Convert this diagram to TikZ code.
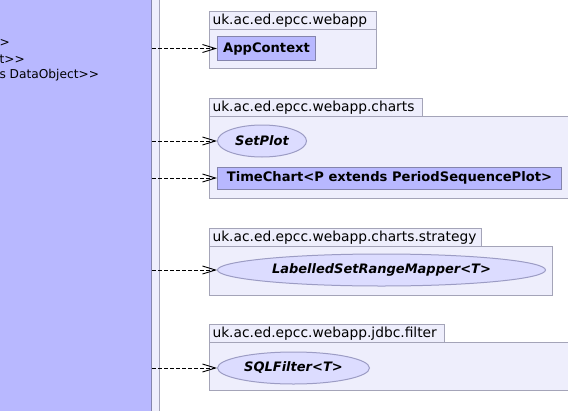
\documentclass[tikz,border=0pt]{standalone}
\usepackage{fontspec}
\setmainfont{DejaVu Sans}[Ligatures=TeXOff]
\usetikzlibrary{arrows.meta,shapes.geometric}
\definecolor{classfill}{HTML}{B8B8FF}
\definecolor{classline}{HTML}{8484AC}
\definecolor{ifacefill}{HTML}{DCDCFF}
\definecolor{ifaceline}{HTML}{9C9CC4}
\definecolor{pkgfill}{HTML}{EEEEFC}
\definecolor{pkgline}{HTML}{A4A4B8}

\begin{document}
\begin{tikzpicture}[x=1pt,y=-1pt,line width=1pt,
  every node/.style={font=\fontsize{13.8}{16}\selectfont},
  pkgbody/.style={draw=pkgline, fill=pkgfill, rectangle, anchor=north west, inner sep=0pt},
  pkgtab/.style={draw=pkgline, fill=pkgfill, rectangle, anchor=north west, minimum height=18pt,
    inner xsep=3pt, inner ysep=0pt, align=left, text height=10pt, text depth=3pt},
  classbox/.style={draw=classline, fill=classfill, rectangle, anchor=west, inner sep=0pt,
    font=\fontsize{13.1}{16}\selectfont\bfseries},
  ifacebox/.style={draw=ifaceline, fill=ifacefill, ellipse, anchor=west, inner sep=0pt,
    minimum height=32pt, font=\fontsize{13}{16}\selectfont\bfseries\itshape},
  dep/.style={dashed, dash pattern=on 4pt off 2pt, line width=0.9pt,
    -{Straight Barb[length=13pt,width=8pt]}},
  cut/.style={anchor=west, inner sep=0pt, font=\fontsize{12.2}{16}\selectfont}]
\clip (0,0) rectangle (568,410);

% the class on the left, cut by the page edge
\node[pkgbody, minimum width=169pt, minimum height=430pt] (datapkg) at (-10,-10) {};
\node[draw=classline, fill=classfill, rectangle, anchor=north west, inner sep=0pt,
  minimum width=161pt, minimum height=430pt] (dataclass) at (-10,-10) {};
\node[cut] (line1) at (-1,43) {>};
\node[cut] (line2) at (-1,59) {t>>};
\node[cut] (line3) at (-1,75) {s DataObject>>};

% packages
\node[pkgbody, minimum width=167pt, minimum height=39pt] (webbody) at (209,29) {};
\node[pkgtab, text width=161pt] (webtab) at (209,11) {uk.ac.ed.epcc.webapp};
\node[pkgbody, minimum width=361pt, minimum height=82pt] (chartsbody) at (209,116) {};
\node[pkgtab, text width=207pt] (chartstab) at (209,98) {uk.ac.ed.epcc.webapp.charts};
\node[pkgbody, minimum width=343pt, minimum height=49pt] (strategybody) at (209,246) {};
\node[pkgtab, text width=266pt] (strategytab) at (209,228) {uk.ac.ed.epcc.webapp.charts.strategy};
\node[pkgbody, minimum width=361pt, minimum height=48pt] (filterbody) at (209,342) {};
\node[pkgtab, text width=229pt] (filtertab) at (209,324) {uk.ac.ed.epcc.webapp.jdbc.filter};

% classes and interfaces
\node[classbox, minimum width=98pt, minimum height=24pt] (app) at (217,48.5) {AppContext};
\node[ifacebox, minimum width=89pt] (setplot) at (217,141) {SetPlot};
\node[classbox, minimum width=344pt, minimum height=22pt] (timechart) at (217,178) {TimeChart<P extends PeriodSequencePlot>};
\node[ifacebox, minimum width=328pt] (mapper) at (217,270) {LabelledSetRangeMapper<T>};
\node[ifacebox, minimum width=152pt] (sqlfilter) at (217,368) {SQLFilter<T>};

\draw[dep] (dataclass.east |- app) -- (app);
\draw[dep] (dataclass.east |- setplot) -- (setplot);
\draw[dep] (dataclass.east |- timechart) -- (timechart);
\draw[dep] (dataclass.east |- mapper) -- (mapper);
\draw[dep] (dataclass.east |- sqlfilter) -- (sqlfilter);
\end{tikzpicture}
\end{document}
